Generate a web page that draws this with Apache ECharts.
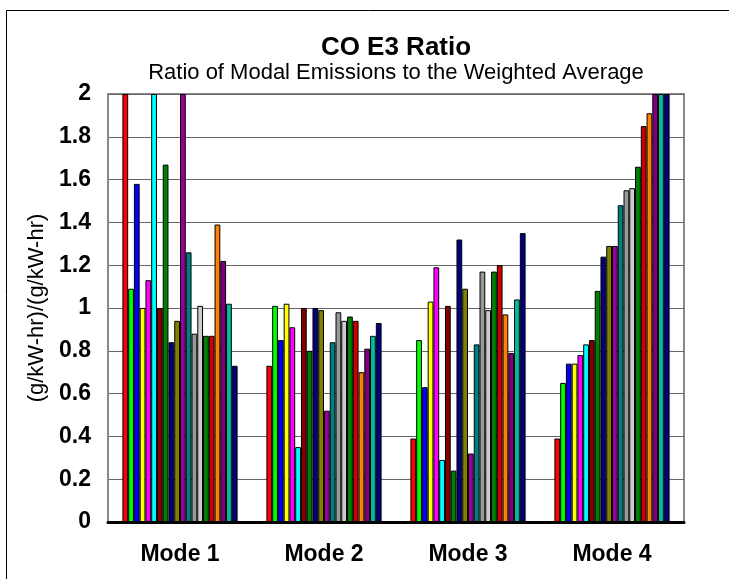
<!DOCTYPE html>
<html>
<head>
<meta charset="utf-8">
<script src="https://cdn.jsdelivr.net/npm/echarts@6/dist/echarts.min.js"></script>
<style>
  html, body { margin: 0; padding: 0; background: #fff; }
  #main { width: 729px; height: 579px; }
</style>
</head>
<body>
<div id="main"></div>
<script>
var modes = ['Mode 1', 'Mode 2', 'Mode 3', 'Mode 4'];
var yTicks = [0, 0.2, 0.4, 0.6, 0.8, 1, 1.2, 1.4, 1.6, 1.8, 2];

// one colour per engine / series (Excel palette order)
var barColors = [
  '#FF0000', '#00FF00', '#0000FF', '#FFFF00', '#FF00FF',
  '#00FFFF', '#800000', '#008000', '#000080', '#808000',
  '#990099', '#008080', '#999999', '#CCCCCC', '#008000',
  '#CC0000', '#FF8000', '#800080', '#00C0A0', '#000080'
];

// ratio per series, values for Mode 1..4
var s1  = [2.00, 0.73, 0.39, 0.39];
var s2  = [1.09, 1.01, 0.85, 0.65];
var s3  = [1.58, 0.85, 0.63, 0.74];
var s4  = [1.00, 1.02, 1.03, 0.74];
var s5  = [1.13, 0.91, 1.19, 0.78];
var s6  = [2.00, 0.35, 0.29, 0.83];
var s7  = [1.00, 1.00, 1.01, 0.85];
var s8  = [1.67, 0.80, 0.24, 1.08];
var s9  = [0.84, 1.00, 1.32, 1.24];
var s10 = [0.94, 0.99, 1.09, 1.29];
var s11 = [2.00, 0.52, 0.32, 1.29];
var s12 = [1.26, 0.84, 0.83, 1.48];
var s13 = [0.88, 0.98, 1.17, 1.55];
var s14 = [1.01, 0.94, 0.99, 1.56];
var s15 = [0.87, 0.96, 1.17, 1.66];
var s16 = [0.87, 0.94, 1.20, 1.85];
var s17 = [1.39, 0.70, 0.97, 1.91];
var s18 = [1.22, 0.81, 0.79, 2.00];
var s19 = [1.02, 0.87, 1.04, 2.00];
var s20 = [0.73, 0.93, 1.35, 2.00];

var seriesData = [s1, s2, s3, s4, s5, s6, s7, s8, s9, s10,
                  s11, s12, s13, s14, s15, s16, s17, s18, s19, s20];

var chart = echarts.init(document.getElementById('main'), null, { renderer: 'canvas' });

var series = seriesData.map(function (d, i) {
  return {
    name: 'Series ' + (i + 1),
    type: 'bar',
    data: d,
    barGap: '0%',
    barCategoryGap: '20%',
    itemStyle: { color: barColors[i], borderColor: '#000', borderWidth: 1 },
    animation: false
  };
});

var option = {
  backgroundColor: '#fff',
  animation: false,
  title: [{
    text: 'CO E3 Ratio',
    left: 391, top: 30, textAlign: 'center',
    textStyle: { fontFamily: 'Liberation Sans', fontSize: 26, fontWeight: 'bold', color: '#000' }
  }, {
    text: 'Ratio of Modal Emissions to the Weighted Average',
    left: 391, top: 57, textAlign: 'center',
    textStyle: { fontFamily: 'Liberation Sans', fontSize: 22, fontWeight: 'normal', color: '#000' }
  }],
  graphic: [{
    type: 'rect',
    shape: { x: 6.5, y: 10.5, width: 900, height: 900 },
    style: { fill: 'none', stroke: '#000', lineWidth: 1 },
    silent: true
  }],
  grid: {
    left: 108, right: 45, top: 94, bottom: 57,
    show: true, borderColor: '#888', borderWidth: 2, backgroundColor: '#fff'
  },
  xAxis: {
    type: 'category',
    data: modes,
    axisTick: { show: false },
    axisLine: { lineStyle: { color: '#000', width: 3 } },
    axisLabel: { margin: 21, fontFamily: 'Liberation Sans', fontSize: 23, fontWeight: 'bold', color: '#000' }
  },
  yAxis: {
    type: 'value',
    min: yTicks[0],
    max: yTicks[yTicks.length - 1],
    interval: 0.2,
    name: '(g/kW-hr)/(g/kW-hr)',
    nameLocation: 'middle',
    nameGap: 60,
    nameTextStyle: { fontFamily: 'Liberation Sans', fontSize: 22, color: '#000' },
    axisLine: { show: true, lineStyle: { color: '#888', width: 2 } },
    axisTick: { show: false },
    axisLabel: {
      margin: 17,
      fontFamily: 'Liberation Sans', fontSize: 23, fontWeight: 'bold', color: '#000',
      formatter: function (v) { return String(Math.round(v * 10) / 10); }
    },
    splitLine: { lineStyle: { color: '#666', width: 1 } }
  },
  series: series
};

chart.setOption(option);
</script>
</body>
</html>
